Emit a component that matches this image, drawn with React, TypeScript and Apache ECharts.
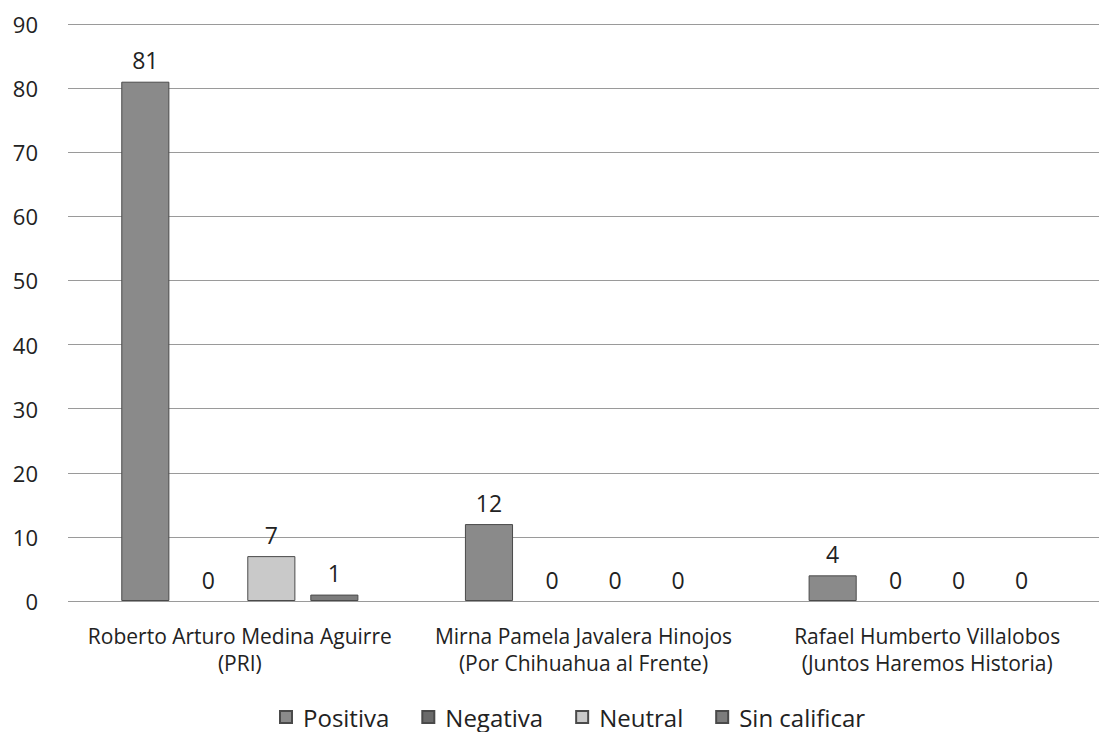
import React, { useEffect, useRef } from "react";
import * as echarts from "echarts";

const categories = [
  "Roberto Arturo Medina Aguirre\n(PRI)",
  "Mirna Pamela Javalera Hinojos\n(Por Chihuahua al Frente)",
  "Rafael Humberto Villalobos\n(Juntos Haremos Historia)",
];
const positiva = [81, 12, 4];
const negativa = [0, 0, 0];
const neutral = [7, 0, 0];
const sinCalificar = [1, 0, 0];
const seriesNames = ["Positiva", "Negativa", "Neutral", "Sin calificar"];
const seriesColors = ["#8a8a8a", "#6a6a6a", "#c9c9c9", "#7c7c7c"];

export default function App() {
  const ref = useRef<HTMLDivElement>(null);
  useEffect(() => {
    const chart = echarts.init(ref.current!, null, { renderer: "svg" });
    const font = "'Open Sans', sans-serif";
    const data = [positiva, negativa, neutral, sinCalificar];
    chart.setOption({
      animation: false,
      backgroundColor: "#ffffff",
      textStyle: { fontFamily: font },
      grid: { left: 68, right: 0, top: 24, bottom: 131 },
      legend: {
        top: 700,
        left: 274,
        itemWidth: 12,
        itemHeight: 12,
        itemGap: 32,
        icon: "rect",
        textStyle: {
          fontSize: 24,
          color: "#222",
          fontFamily: font,
          padding: [0, 0, 0, 6],
        },
        data: seriesNames,
      },
      xAxis: {
        type: "category",
        data: categories,
        axisLine: { show: false },
        axisTick: { show: false },
        axisLabel: {
          interval: 0,
          hideOverlap: false,
          fontSize: 21,
          color: "#222",
          lineHeight: 27,
          margin: 21,
          fontFamily: font,
        },
      },
      yAxis: {
        type: "value",
        min: 0,
        max: 90,
        interval: 10,
        axisLine: { show: false },
        axisTick: { show: false },
        axisLabel: { fontSize: 22, color: "#222", margin: 30, fontFamily: font },
        splitLine: { lineStyle: { color: "#9a9a9a", width: 1 } },
      },
      series: seriesNames.map((name, i) => ({
        name,
        type: "bar",
        data: data[i].map((v) => ({
          value: v,
          itemStyle: v === 0 ? { borderWidth: 0 } : undefined,
        })),
        barGap: "31%",
        barCategoryGap: "31%",
        itemStyle: {
          color: seriesColors[i],
          borderColor: "#4a4a4a",
          borderWidth: 1,
        },
        label: {
          show: true,
          position: "top",
          fontSize: 23,
          color: "#222",
          distance: 10,
          fontFamily: font,
        },
      })),
    });
    return () => chart.dispose();
  }, []);
  return (
    <div
      ref={ref}
      style={{ position: "absolute", left: 0, top: 0, width: 1099, height: 732 }}
    />
  );
}
